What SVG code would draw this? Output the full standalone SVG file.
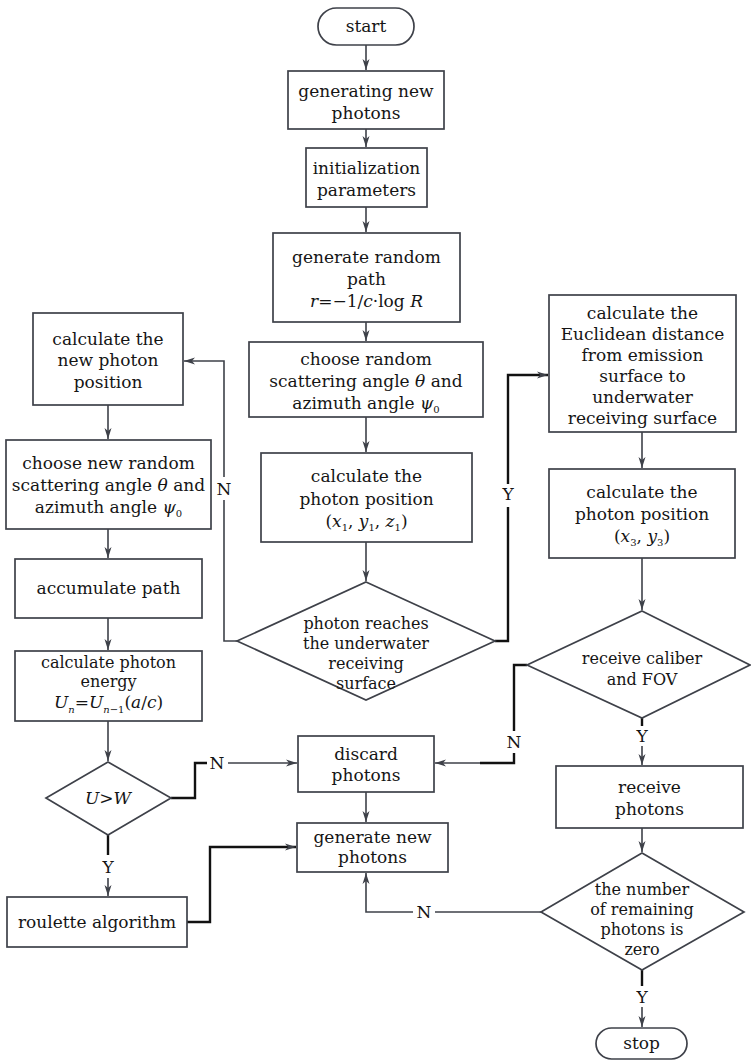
<svg xmlns="http://www.w3.org/2000/svg" width="751" height="1060" viewBox="0 0 751 1060">
<style>
.b{fill:#fff;stroke:#3e4149;stroke-width:1.7}
.t{font-family:"DejaVu Serif","Liberation Serif",serif;font-size:17px;fill:#151515;text-anchor:middle}
.s{font-family:"DejaVu Serif","Liberation Serif",serif;font-size:16px;fill:#151515;text-anchor:middle}
.i{font-style:italic}
.c{fill:none;stroke:#3e4149;stroke-width:1.6}
.k{fill:none;stroke:#111;stroke-width:2.4}
.l{font-family:"DejaVu Serif","Liberation Serif",serif;font-size:17px;fill:#151515;text-anchor:middle}
</style>
<defs>
<marker id="a" markerWidth="12" markerHeight="8" refX="11" refY="4" orient="auto" markerUnits="userSpaceOnUse">
<path d="M0,0.5 L11,4 L0,7.5 L3,4 z" fill="#3e4149"/>
</marker>
</defs>
<rect width="751" height="1060" fill="#fff"/>
<g id="connectors">
<path class="c" d="M366,45 V70" marker-end="url(#a)"/>
<path class="c" d="M366,129 V147" marker-end="url(#a)"/>
<path class="c" d="M366,207 V232" marker-end="url(#a)"/>
<path class="c" d="M366,322 V341" marker-end="url(#a)"/>
<path class="c" d="M366,417 V452" marker-end="url(#a)"/>
<path class="c" d="M366,542 V581" marker-end="url(#a)"/>
<path class="c" d="M237,641 H224 V500"/>
<path class="c" d="M224,477 V361 H184" marker-end="url(#a)"/>
<text class="l" x="224" y="495">N</text>
<path class="k" d="M495,641 H508 V507"/>
<path class="k" d="M508,484 V375 H548" marker-end="url(#a)"/>
<text class="l" x="508" y="500">Y</text>
<path class="c" d="M108,405 V439" marker-end="url(#a)"/>
<path class="c" d="M108,529 V558" marker-end="url(#a)"/>
<path class="c" d="M108,618 V650" marker-end="url(#a)"/>
<path class="c" d="M108,721 V761" marker-end="url(#a)"/>
<path class="k" d="M108,835 V855"/>
<path class="c" d="M108,878 V896" marker-end="url(#a)"/>
<text class="l" x="108" y="873">Y</text>
<path class="k" d="M171,798 H195 V763 H207"/>
<path class="c" d="M228,763 H297" marker-end="url(#a)"/>
<text class="l" x="217" y="769">N</text>
<path class="k" d="M187,922 H210 V847 H296" marker-end="url(#a)"/>
<path class="c" d="M642,432 V468" marker-end="url(#a)"/>
<path class="c" d="M642,558 V610" marker-end="url(#a)"/>
<path class="k" d="M527,665 H514 V731"/>
<path class="k" d="M514,753 V763 H480"/>
<path class="c" d="M480,763 H435" marker-end="url(#a)"/>
<text class="l" x="514" y="748">N</text>
<path class="k" d="M642,718 V726"/>
<path class="c" d="M642,746 V765" marker-end="url(#a)"/>
<text class="l" x="642" y="742">Y</text>
<path class="c" d="M642,828 V852" marker-end="url(#a)"/>
<path class="k" d="M642,970 V986"/>
<path class="c" d="M642,1007 V1027" marker-end="url(#a)"/>
<text class="l" x="642" y="1003">Y</text>
<path class="c" d="M541,912 H435"/>
<path class="c" d="M413,912 H366 V873" marker-end="url(#a)"/>
<text class="l" x="424" y="918">N</text>
<path class="c" d="M366,792 V822" marker-end="url(#a)"/>
</g>
<g id="start"><rect class="b" x="318" y="8" width="96" height="37" rx="18.5"/><text class="t" x="366" y="32">start</text></g>
<g id="gen1"><rect class="b" x="288" y="71" width="156" height="58"/><text class="t" x="366" y="97">generating new</text><text class="t" x="366" y="119">photons</text></g>
<g id="init"><rect class="b" x="306" y="148" width="121" height="59"/><text class="t" x="366.5" y="174">initialization</text><text class="t" x="366.5" y="196">parameters</text></g>
<g id="path"><rect class="b" x="273" y="233" width="187" height="89"/><text class="t" x="366.5" y="263">generate random</text><text class="t" x="366.5" y="285">path</text><text class="t" x="366.5" y="307"><tspan class="i">r</tspan>=−1/<tspan class="i">c</tspan>·log <tspan class="i">R</tspan></text></g>
<g id="angle"><rect class="b" x="249" y="342" width="234" height="75"/><text class="t" x="366" y="365">choose random</text><text class="t" x="366" y="387">scattering angle <tspan class="i">θ</tspan> and</text><text class="t" x="366" y="409">azimuth angle <tspan class="i">ψ</tspan><tspan font-size="10" dy="4">0</tspan></text></g>
<g id="pos1"><rect class="b" x="261" y="453" width="211" height="89"/><text class="t" x="366.5" y="482">calculate the</text><text class="t" x="366.5" y="505">photon position</text><text class="t" x="366.5" y="527">(<tspan class="i">x</tspan><tspan font-size="10" dy="4">1</tspan><tspan dy="-4">, </tspan><tspan class="i">y</tspan><tspan font-size="10" dy="4">1</tspan><tspan dy="-4">, </tspan><tspan class="i">z</tspan><tspan font-size="10" dy="4">1</tspan><tspan dy="-4">)</tspan></text></g>
<g id="reach"><polygon class="b" points="366,582 495,641 366,700 237,641"/><text class="s" x="366" y="629">photon reaches</text><text class="s" x="366" y="649">the underwater</text><text class="s" x="366" y="669">receiving</text><text class="s" x="366" y="689">surface</text></g>
<g id="newpos"><rect class="b" x="33" y="313" width="150" height="92"/><text class="t" x="108" y="345">calculate the</text><text class="t" x="108" y="366">new photon</text><text class="t" x="108" y="388">position</text></g>
<g id="newangle"><rect class="b" x="6" y="440" width="205" height="89"/><text class="t" x="108.5" y="469">choose new random</text><text class="t" x="108.5" y="491">scattering angle <tspan class="i">θ</tspan> and</text><text class="t" x="108.5" y="513">azimuth angle <tspan class="i">ψ</tspan><tspan font-size="10" dy="4">0</tspan></text></g>
<g id="accum"><rect class="b" x="15" y="559" width="187" height="59"/><text class="t" x="108.5" y="594">accumulate path</text></g>
<g id="energy"><rect class="b" x="15" y="651" width="187" height="70"/><text class="s" x="108.5" y="668">calculate photon</text><text class="s" x="108.5" y="687">energy</text><text class="t" x="108.5" y="708"><tspan class="i">U</tspan><tspan class="i" font-size="10" dy="5">n</tspan><tspan dy="-5">=</tspan><tspan class="i">U</tspan><tspan class="i" font-size="10" dy="5">n</tspan><tspan font-size="10">−1</tspan><tspan dy="-5">(</tspan><tspan class="i">a</tspan>/<tspan class="i">c</tspan>)</text></g>
<g id="uw"><polygon class="b" points="108,762 171,798 108,835 46,798"/><text class="t i" x="108" y="804">U&gt;W</text></g>
<g id="roulette"><rect class="b" x="7" y="897" width="180" height="50"/><text class="t" x="97" y="928">roulette algorithm</text></g>
<g id="euclid"><rect class="b" x="549" y="295" width="187" height="137"/><text class="t" x="642.5" y="319">calculate the</text><text class="t" x="642.5" y="340">Euclidean distance</text><text class="t" x="642.5" y="361">from emission</text><text class="t" x="642.5" y="382">surface to</text><text class="t" x="642.5" y="403">underwater</text><text class="t" x="642.5" y="424">receiving surface</text></g>
<g id="pos3"><rect class="b" x="549" y="469" width="186" height="89"/><text class="t" x="642" y="498">calculate the</text><text class="t" x="642" y="520">photon position</text><text class="t" x="642" y="542">(<tspan class="i">x</tspan><tspan font-size="10" dy="4">3</tspan><tspan dy="-4">, </tspan><tspan class="i">y</tspan><tspan font-size="10" dy="4">3</tspan><tspan dy="-4">)</tspan></text></g>
<g id="fov"><polygon class="b" points="642,611 750,665 642,718 527,665"/><text class="s" x="642" y="664">receive caliber</text><text class="s" x="642" y="685">and FOV</text></g>
<g id="receive"><rect class="b" x="556" y="766" width="187" height="62"/><text class="t" x="649.5" y="793">receive</text><text class="t" x="649.5" y="815">photons</text></g>
<g id="remain"><polygon class="b" points="642,853 744,912 642,970 541,912"/><text class="s" x="642" y="895">the number</text><text class="s" x="642" y="915">of remaining</text><text class="s" x="642" y="935">photons is</text><text class="s" x="642" y="955">zero</text></g>
<g id="stop"><rect class="b" x="596" y="1028" width="91" height="31" rx="15.5"/><text class="t" x="641.5" y="1049">stop</text></g>
<g id="discard"><rect class="b" x="298" y="736" width="136" height="56"/><text class="t" x="366" y="760">discard</text><text class="t" x="366" y="781">photons</text></g>
<g id="gen2"><rect class="b" x="297" y="823" width="151" height="49"/><text class="t" x="372.5" y="843">generate new</text><text class="t" x="372.5" y="863">photons</text></g>
</svg>
